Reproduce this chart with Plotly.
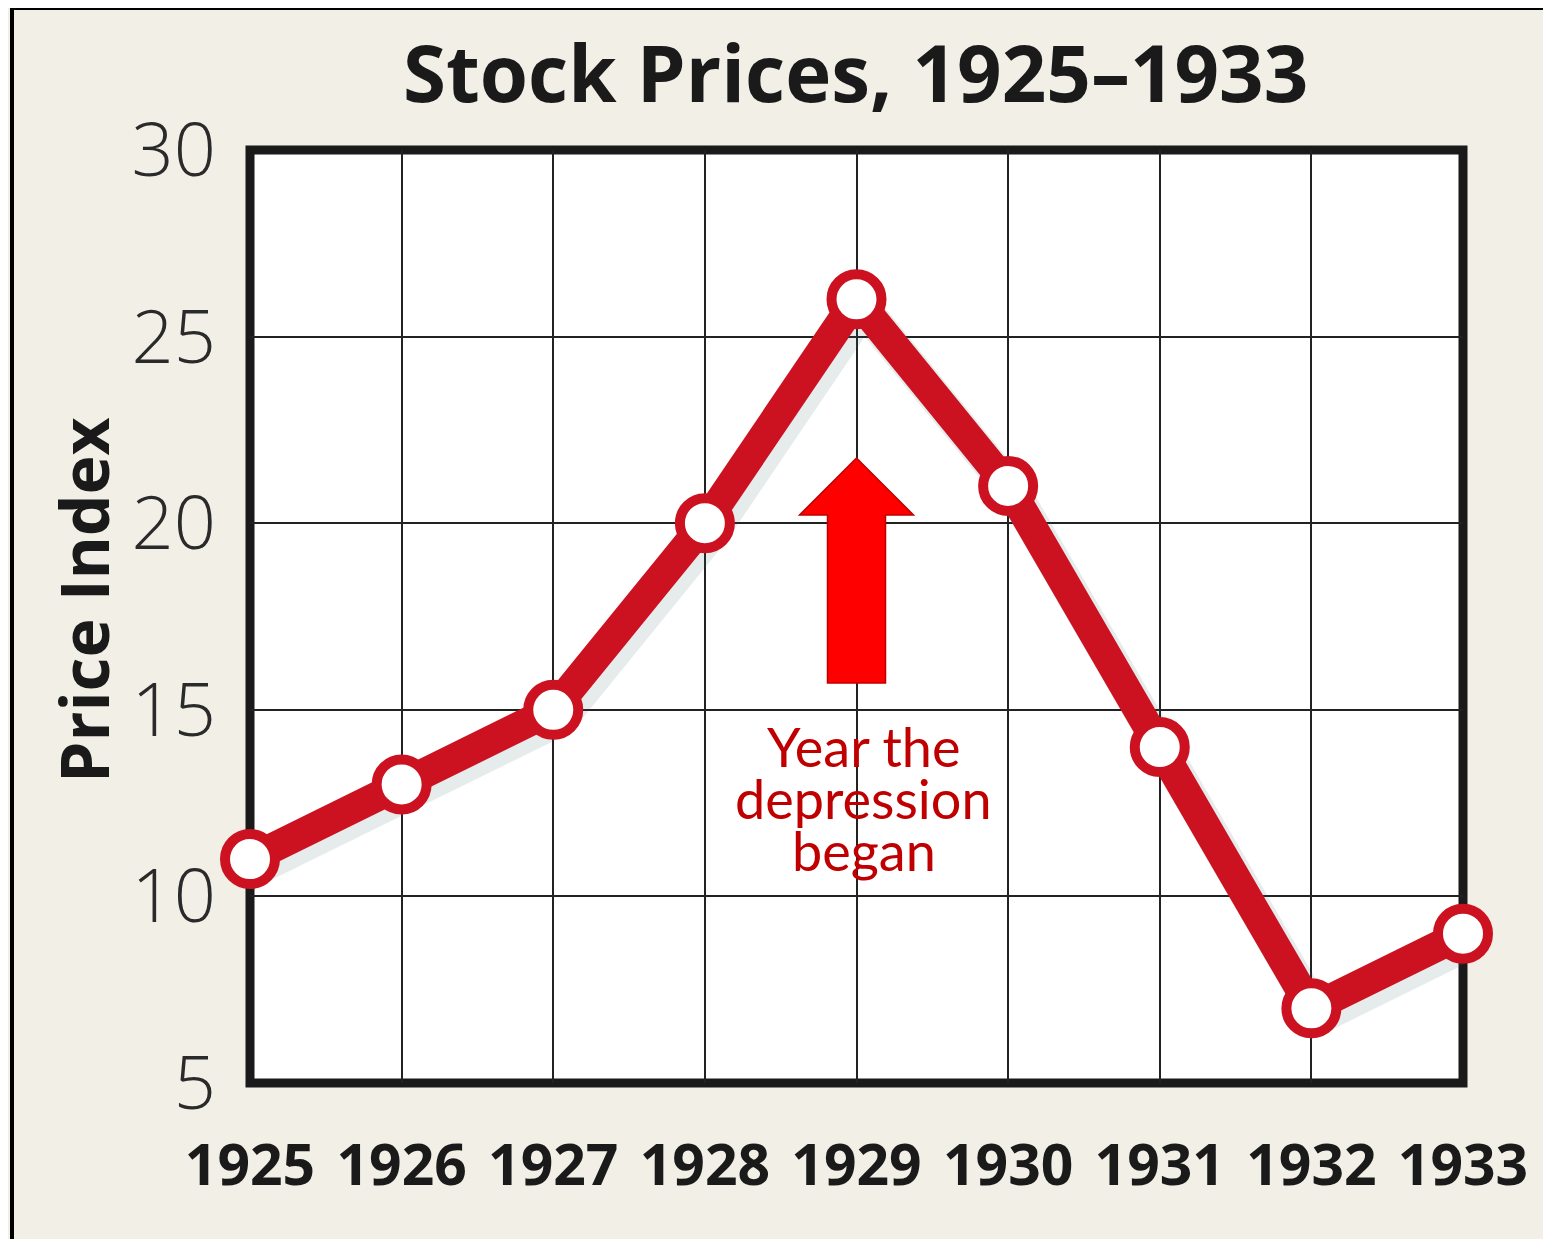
import plotly.graph_objects as go

# ---- data ----
years = [1925, 1926, 1927, 1928, 1929, 1930, 1931, 1932, 1933]
price_index = [11, 13, 15, 20, 26, 21, 14, 7, 9]
y_ticks = [5, 10, 15, 20, 25, 30]
x_tick_labels = [str(y) for y in years]

title_text = "Stock Prices, 1925\u20131933"
y_title = "Price Index"
note_lines = ["Year the", "depression", "began"]
event_year = 1929

# ---- geometry (page pixels; page body has an 8px margin) ----
OFF = 8
PAGE_W, PAGE_H = 1551, 1239
W, H = PAGE_W - OFF, PAGE_H - OFF
PL, PR, PT, PB = 250, 1463, 150, 1083          # plot area in page pixels
L, T = PL - OFF, PT - OFF
R, B = PAGE_W - PR, PAGE_H - PB
RED = "#CC1220"
PAPER = "#F2EFE6"

plot_w, plot_h = PR - PL, PB - PT
px_per_year = plot_w / (years[-1] - years[0])
px_per_unit = plot_h / (y_ticks[-1] - y_ticks[0])

def paper_x(px): return (px - PL) / plot_w
def paper_y(py): return (PB - py) / plot_h
def data_y(py): return y_ticks[0] + (PB - py) / px_per_unit

fig = go.Figure()

# soft shadow (same data drawn on slightly shifted overlay axes)
fig.add_trace(go.Scatter(
    x=years, y=price_index, mode="lines",
    line=dict(color="rgba(60,110,110,0.13)", width=34),
    xaxis="x2", yaxis="y2", hoverinfo="skip", showlegend=False,
))

fig.add_trace(go.Scatter(
    x=years, y=price_index, mode="lines+markers",
    line=dict(color=RED, width=30),
    marker=dict(size=50, color="white", line=dict(color=RED, width=10)),
    xaxis="x3", yaxis="y3",
    cliponaxis=False, showlegend=False,
))

# heavy plot frame centred on the plot edges
fig.add_shape(type="rect", xref="paper", yref="paper", x0=0, x1=1, y0=0, y1=1,
              line=dict(color="#1a1a1a", width=9), layer="between")

# block arrow pointing at the event year
shaft_hw = 29 / px_per_year
head_hw = 57 / px_per_year
tip_y, head_base_y, tail_y = data_y(458), data_y(515), data_y(683)
cx = event_year
path = (f"M {cx-shaft_hw},{tail_y} L {cx-shaft_hw},{head_base_y} L {cx-head_hw},{head_base_y} "
        f"L {cx},{tip_y} L {cx+head_hw},{head_base_y} L {cx+shaft_hw},{head_base_y} "
        f"L {cx+shaft_hw},{tail_y} Z")
fig.add_shape(type="path", path=path, xref="x", yref="y",
              fillcolor="#FF0000", line=dict(color="#C00000", width=1.5), layer="above")

# outer frame lines (left and top)
fig.add_shape(type="line", xref="paper", yref="paper",
              x0=paper_x(12), x1=paper_x(12), y0=paper_y(6), y1=paper_y(PAGE_H + 5),
              line=dict(color="black", width=4))
fig.add_shape(type="line", xref="paper", yref="paper",
              x0=paper_x(10), x1=paper_x(PAGE_W + 5), y0=paper_y(8), y1=paper_y(8),
              line=dict(color="black", width=4))

for line_txt, py in zip(note_lines, [746, 798, 850]):
    fig.add_annotation(text=line_txt, x=event_year + 7 / px_per_year, y=data_y(py),
                       xref="x", yref="y", xanchor="center", yanchor="middle",
                       showarrow=False,
                       font=dict(family="Lato, Open Sans, sans-serif", size=54, color="#C00000"))

fig.add_annotation(text=f"<b>{y_title}</b>", textangle=-90,
                   x=paper_x(83), y=paper_y(600), xref="paper", yref="paper",
                   xanchor="center", yanchor="middle", showarrow=False,
                   font=dict(family="Open Sans, sans-serif", size=66, color="#1a1a1a"))

fig.add_annotation(text=f"<b>{title_text}</b>",
                   x=paper_x(855), y=paper_y(72), xref="paper", yref="paper",
                   xanchor="center", yanchor="middle", showarrow=False,
                   font=dict(family="Open Sans, sans-serif", size=78, color="#1a1a1a"))

dx = 7 / px_per_year
dy = 9 / px_per_unit
xr = [years[0], years[-1]]
yr = [y_ticks[0], y_ticks[-1]]
fig.update_layout(
    width=W, height=H,
    margin=dict(l=L, r=R, t=T, b=B),
    paper_bgcolor=PAPER, plot_bgcolor="white",
    xaxis=dict(range=xr, tickvals=years, ticktext=x_tick_labels,
               showgrid=True, gridcolor="#222", gridwidth=2,
               showline=False, ticks="", zeroline=False, ticklabelstandoff=44,
               tickfont=dict(family="Open Sans, sans-serif",
                             size=57, color="#1a1a1a", weight="bold")),
    yaxis=dict(range=yr, tickvals=y_ticks,
               showgrid=True, gridcolor="#222", gridwidth=2,
               showline=False, ticks="", zeroline=False, ticklabelstandoff=33,
               tickfont=dict(family="Open Sans, sans-serif", size=74, color="#2a2a2a", weight=300)),
    xaxis2=dict(range=[xr[0] - dx, xr[1] - dx], overlaying="x", visible=False),
    yaxis2=dict(range=[yr[0] + dy, yr[1] + dy], overlaying="y", visible=False),
    xaxis3=dict(range=xr, overlaying="x", visible=False),
    yaxis3=dict(range=yr, overlaying="y", visible=False),
)

fig.write_html("out.html")
